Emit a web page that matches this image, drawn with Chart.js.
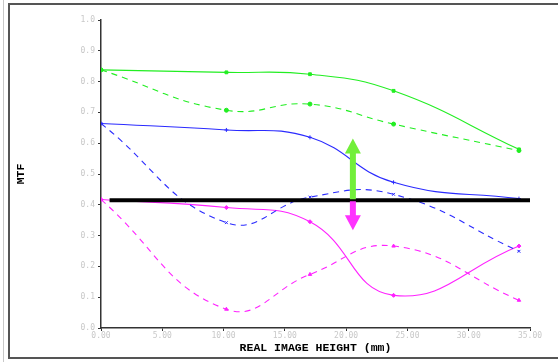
<!DOCTYPE html>
<html>
<head>
<meta charset="utf-8">
<script src="https://cdn.jsdelivr.net/npm/chart.js@4"></script>
<style>
  html, body { margin: 0; padding: 0; background: #fff; }
  #wrap { position: relative; width: 558px; height: 362px; }
</style>
</head>
<body>
<div id="wrap"><canvas id="mtfChart" width="558" height="362"></canvas></div>
<script>
// real image heights of the five field points (mm)
const fieldHeights = [0, 10.23, 17.05, 23.87, 34.1];

// MTF values per field
const greenSolid = [0.838, 0.830, 0.824, 0.770, 0.580];
const greenDashed = [0.838, 0.707, 0.727, 0.662, 0.576];
const blueSolid = [0.664, 0.643, 0.619, 0.473, 0.420];
const blueDashed = [0.664, 0.342, 0.425, 0.434, 0.249];
const magentaSolid = [0.417, 0.391, 0.345, 0.106, 0.266];
const magentaDashed = [0.417, 0.061, 0.174, 0.266, 0.090];

// black threshold line and the two arrows
const thresholdX = [0.7, 35];
const thresholdY = 0.4145;
const arrowX = 20.55;
const arrowUpTip = 0.6155;
const arrowDownTip = 0.3175;

const xTicks = [0, 5, 10, 15, 20, 25, 30, 35];
const yTicks = [0, 0.1, 0.2, 0.3, 0.4, 0.5, 0.6, 0.7, 0.8, 0.9, 1.0];

function toPoints(values) {
  return fieldHeights.map((h, i) => ({ x: h, y: values[i] }));
}

function curve(label, values, color, dashed, style) {
  return {
    label: label,
    data: toPoints(values),
    borderColor: color,
    backgroundColor: color,
    borderWidth: 1.1,
    borderDash: dashed ? [6, 5] : [],
    tension: 0.45,
    pointStyle: style,
    pointRadius: 2,
    pointBorderWidth: 1,
    order: 2
  };
}

// page frame behind the chart
const framePlugin = {
  id: "frame",
  beforeDraw(chart) {
    const ctx = chart.ctx;
    ctx.save();
    ctx.fillStyle = "#fff";
    ctx.fillRect(0, 0, chart.width, chart.height);
    ctx.fillStyle = "#c8c8c8";
    ctx.fillRect(3, 0, 1, chart.height);
    ctx.strokeStyle = "#555";
    ctx.lineWidth = 2;
    ctx.strokeRect(9, 4, chart.width + 10, 354);
    ctx.restore();
  }
};

function drawArrow(ctx, x, yBase, yTip, color) {
  const dir = yTip < yBase ? -1 : 1;
  const headLen = 15, headHalf = 8, shaftHalf = 3;
  const yHead = yTip - dir * headLen;
  ctx.fillStyle = color;
  ctx.beginPath();
  ctx.moveTo(x - shaftHalf, yBase);
  ctx.lineTo(x - shaftHalf, yHead);
  ctx.lineTo(x - headHalf, yHead);
  ctx.lineTo(x, yTip);
  ctx.lineTo(x + headHalf, yHead);
  ctx.lineTo(x + shaftHalf, yHead);
  ctx.lineTo(x + shaftHalf, yBase);
  ctx.closePath();
  ctx.fill();
}

const arrowPlugin = {
  id: "arrows",
  afterDatasetsDraw(chart) {
    const xs = chart.scales.x, ys = chart.scales.y;
    const ctx = chart.ctx;
    const px = xs.getPixelForValue(arrowX);
    const base = ys.getPixelForValue(thresholdY);
    ctx.save();
    drawArrow(ctx, px, base - 1, ys.getPixelForValue(arrowUpTip), "#72ef3a");
    drawArrow(ctx, px, base + 1, ys.getPixelForValue(arrowDownTip), "#ff33ff");
    ctx.restore();
  }
};

const tickFont = { family: "DejaVu Sans Mono", size: 8 };
const titleFont = { family: "Liberation Mono", size: 11.5, weight: "bold" };

new Chart(document.getElementById("mtfChart"), {
  type: "line",
  data: {
    datasets: [
      {
        label: "threshold",
        data: thresholdX.map(x => ({ x: x, y: thresholdY })),
        borderColor: "#000",
        borderWidth: 4,
        pointRadius: 0,
        order: 1
      },
      curve("green S", greenSolid, "#22ee22", false, "rect"),
      curve("green T", greenDashed, "#22ee22", true, "circle"),
      curve("blue S", blueSolid, "#2b2bff", false, "cross"),
      curve("blue T", blueDashed, "#2b2bff", true, "crossRot"),
      curve("magenta S", magentaSolid, "#ff22ff", false, "rectRot"),
      curve("magenta T", magentaDashed, "#ff22ff", true, "triangle")
    ]
  },
  options: {
    responsive: false,
    animation: false,
    layout: { padding: { left: 0, top: 20, right: 28, bottom: 0 } },
    plugins: { legend: { display: false }, tooltip: { enabled: false } },
    scales: {
      x: {
        type: "linear",
        min: 0,
        max: 35,
        afterBuildTicks: scale => { scale.ticks = xTicks.map(v => ({ value: v })); },
        afterFit: scale => { scale.height = 34; },
        grid: { drawOnChartArea: false, drawTicks: true, tickLength: 3, color: "#333" },
        border: { display: true, color: "#333", width: 1.5 },
        ticks: {
          color: "#c8c8c8",
          font: tickFont,
          padding: 0,
          maxRotation: 0,
          callback: v => Number(v).toFixed(2)
        },
        title: {
          display: true,
          text: "REAL IMAGE HEIGHT (mm)",
          color: "#000",
          font: titleFont,
          padding: { top: 0, bottom: 7 }
        }
      },
      y: {
        min: 0,
        max: 1,
        afterBuildTicks: scale => { scale.ticks = yTicks.map(v => ({ value: v })); },
        afterFit: scale => { scale.width = 101; },
        grid: { drawOnChartArea: false, drawTicks: true, tickLength: 3, color: "#333" },
        border: { display: true, color: "#333", width: 1.5 },
        ticks: {
          color: "#c8c8c8",
          font: tickFont,
          padding: 3,
          callback: v => Number(v).toFixed(1)
        },
        title: {
          display: true,
          text: "MTF",
          color: "#000",
          font: titleFont,
          padding: { top: 14, bottom: 0 }
        }
      }
    }
  },
  plugins: [framePlugin, arrowPlugin]
});
</script>
</body>
</html>
